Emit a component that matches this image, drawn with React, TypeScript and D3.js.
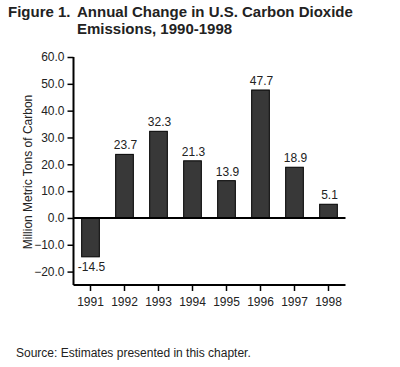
import React, { useEffect, useRef } from 'react';
import * as d3 from 'd3';

const years: string[] = ['1991', '1992', '1993', '1994', '1995', '1996', '1997', '1998'];
const changes: number[] = [-14.5, 23.7, 32.3, 21.3, 13.9, 47.7, 18.9, 5.1];
const yTicks: number[] = [-20, -10, 0, 10, 20, 30, 40, 50, 60];

const titleLabel = 'Figure 1.';
const titleLines: string[] = ['Annual Change in U.S. Carbon Dioxide', 'Emissions, 1990-1998'];
const yAxisTitle = 'Million Metric Tons of Carbon';
const sourceNote = 'Source: Estimates presented in this chapter.';

const App: React.FC = () => {
  const containerRef = useRef<HTMLDivElement | null>(null);

  useEffect(() => {
    if (!containerRef.current) return;
    containerRef.current.innerHTML = '';

    const width = 400;
    const height = 367;
    const font = '"Liberation Sans", Arial, Helvetica, sans-serif';
    const textColor = '#222';

    const left = 73.5;
    const right = 345.5;
    const top = 57;
    const bottom = 285;

    const data = years.map((year, i) => ({ year, value: changes[i] }));

    const xScale = d3.scaleBand<string>().domain(years).range([left, right]).paddingInner(0.48).paddingOuter(0.24);
    const yScale = d3.scaleLinear().domain([-25, 60]).range([bottom, top]);

    const svg = d3
      .select(containerRef.current)
      .append('svg')
      .attr('width', width)
      .attr('height', height)
      .style('position', 'absolute')
      .style('left', '0px')
      .style('top', '0px')
      .style('background', '#fff')
      .style('font-family', font);

    // Title
    svg
      .append('text')
      .attr('x', 8)
      .attr('y', 17)
      .attr('font-size', 15)
      .attr('font-weight', 'bold')
      .attr('fill', textColor)
      .text(titleLabel);
    titleLines.forEach((line, i) => {
      svg
        .append('text')
        .attr('x', 77)
        .attr('y', 17 + i * 17)
        .attr('font-size', 15)
        .attr('font-weight', 'bold')
        .attr('fill', textColor)
        .text(line);
    });

    // Bars
    svg
      .append('g')
      .selectAll('rect')
      .data(data)
      .join('rect')
      .attr('x', (d) => xScale(d.year) as number)
      .attr('y', (d) => yScale(Math.max(0, d.value)))
      .attr('width', xScale.bandwidth())
      .attr('height', (d) => Math.abs(yScale(d.value) - yScale(0)))
      .attr('fill', '#383838')
      .attr('stroke', '#000')
      .attr('stroke-width', 1);

    // Value labels
    svg
      .append('g')
      .selectAll('text')
      .data(data)
      .join('text')
      .attr('x', (d) => (xScale(d.year) as number) + xScale.bandwidth() / 2 + 1)
      .attr('y', (d) => (d.value >= 0 ? yScale(d.value) - 5 : yScale(d.value) + 14))
      .attr('text-anchor', 'middle')
      .attr('font-size', 12)
      .attr('fill', textColor)
      .text((d) => d.value.toFixed(1));

    // Y axis
    const yAxis = svg
      .append('g')
      .attr('transform', `translate(${left}, 0)`)
      .call(
        d3
          .axisLeft<number>(yScale)
          .tickValues(yTicks)
          .tickFormat(d3.format('.1f'))
          .tickSize(6)
          .tickSizeOuter(0)
          .tickPadding(3)
      );
    yAxis.select('.domain').remove();
    yAxis.selectAll('line').attr('stroke', '#000').attr('stroke-width', 1.5);
    yAxis.selectAll('text').attr('font-size', 12).attr('font-family', font).attr('fill', textColor);

    svg
      .append('line')
      .attr('x1', left)
      .attr('x2', left)
      .attr('y1', yScale(60))
      .attr('y2', bottom)
      .attr('stroke', '#000')
      .attr('stroke-width', 2);

    // X axis (bottom)
    const xAxis = svg
      .append('g')
      .attr('transform', `translate(0, ${bottom})`)
      .call(d3.axisBottom<string>(xScale).tickSize(6).tickSizeOuter(0).tickPadding(6));
    xAxis.select('.domain').remove();
    xAxis.selectAll('line').attr('stroke', '#000').attr('stroke-width', 1.5);
    xAxis.selectAll('text').attr('font-size', 12).attr('font-family', font).attr('fill', textColor);

    svg
      .append('line')
      .attr('x1', left)
      .attr('x2', right)
      .attr('y1', bottom)
      .attr('y2', bottom)
      .attr('stroke', '#000')
      .attr('stroke-width', 2);

    // Zero line
    svg
      .append('line')
      .attr('x1', left)
      .attr('x2', right)
      .attr('y1', yScale(0))
      .attr('y2', yScale(0))
      .attr('stroke', '#000')
      .attr('stroke-width', 2);

    // Y axis title
    svg
      .append('text')
      .attr('transform', `translate(32, ${(yScale(60) + bottom) / 2 + 1}) rotate(-90)`)
      .attr('text-anchor', 'middle')
      .attr('font-size', 12)
      .attr('fill', textColor)
      .text(yAxisTitle);

    // Source
    svg
      .append('text')
      .attr('x', 16)
      .attr('y', 357)
      .attr('font-size', 12)
      .attr('fill', textColor)
      .text(sourceNote);
  }, []);

  return <div ref={containerRef} id="carbon-chart" />;
};

export default App;
